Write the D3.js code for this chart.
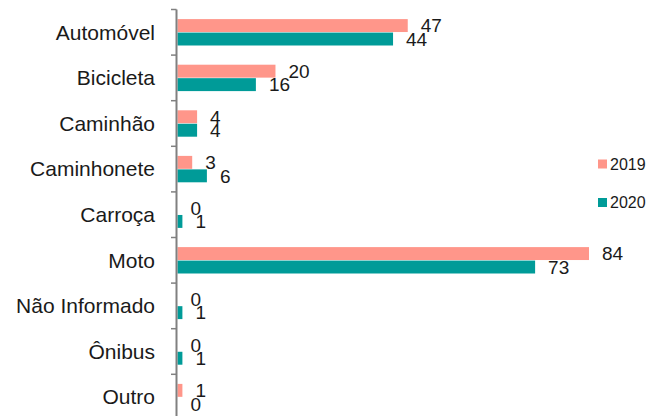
<!DOCTYPE html>
<html><head><meta charset="utf-8">
<script src="https://cdn.jsdelivr.net/npm/d3@7"></script>
<style>body{margin:0;background:#fff}svg{display:block}text{font-family:"Liberation Sans",Arial,sans-serif;fill:#1a1a1a}</style>
</head><body>
<svg id="c" width="648" height="416"></svg>
<script>
const categories = ["Automóvel","Bicicleta","Caminhão","Caminhonete","Carroça","Moto","Não Informado","Ônibus","Outro"];
const series = ["2019","2020"];
const values2019 = [47,20,4,3,0,84,0,0,1];
const values2020 = [44,16,4,6,1,73,1,1,0];
const colors = {"2019":"#FF968A","2020":"#009B98"};

const svg = d3.select("#c");
const axisX = 176.5;
const x = d3.scaleLinear().domain([0,84]).range([177.5,589]);
const y = d3.scaleBand().domain(categories).range([9.5, 9.5+9*45.6]);
const groupH = 26.4;
const y1 = d3.scaleBand().domain(series).range([(y.bandwidth()-groupH)/2,(y.bandwidth()+groupH)/2]).paddingInner(0.04);

const data = categories.map((c,i)=>({cat:c, vals:[{s:"2019",v:values2019[i]},{s:"2020",v:values2020[i]}]}));

const g = svg.selectAll("g.cat").data(data).join("g").attr("class","cat")
  .attr("transform",d=>`translate(0,${y(d.cat)})`);
g.selectAll("rect").data(d=>d.vals).join("rect")
  .attr("x",x(0)).attr("y",d=>y1(d.s))
  .attr("width",d=>x(d.v)-x(0)).attr("height",y1.bandwidth())
  .attr("fill",d=>colors[d.s]);
g.selectAll("text.lbl").data(d=>d.vals).join("text").attr("class","lbl")
  .attr("x",d=>x(d.v)+13).attr("y",d=>y1(d.s)+y1.bandwidth()/2).attr("dy","0.36em")
  .attr("font-size",19).text(d=>d.v);

// category labels
svg.selectAll("text.cl").data(categories).join("text").attr("class","cl")
  .attr("x",155).attr("y",d=>y(d)+y.bandwidth()/2).attr("dy","0.35em")
  .attr("text-anchor","end").attr("font-size",21).text(d=>d);

// axis
svg.append("line").attr("x1",axisX).attr("x2",axisX).attr("y1",y.range()[0]).attr("y2",y.range()[1])
  .attr("stroke","#808080").attr("stroke-width",2);
svg.selectAll("line.tk").data(categories).join("line").attr("class","tk")
  .attr("x1",171).attr("x2",axisX).attr("y1",d=>y(d)).attr("y2",d=>y(d))
  .attr("stroke","#808080").attr("stroke-width",1.5);

// legend
const lg = svg.selectAll("g.lg").data(series).join("g").attr("class","lg")
  .attr("transform",(d,i)=>`translate(598,${164+i*38.5})`);
lg.append("rect").attr("x",0).attr("y",-4.5).attr("width",9).attr("height",9).attr("fill",d=>colors[d]);
lg.append("text").attr("x",12).attr("y",0).attr("dy","0.36em").attr("font-size",16).text(d=>d);
</script>
</body></html>
